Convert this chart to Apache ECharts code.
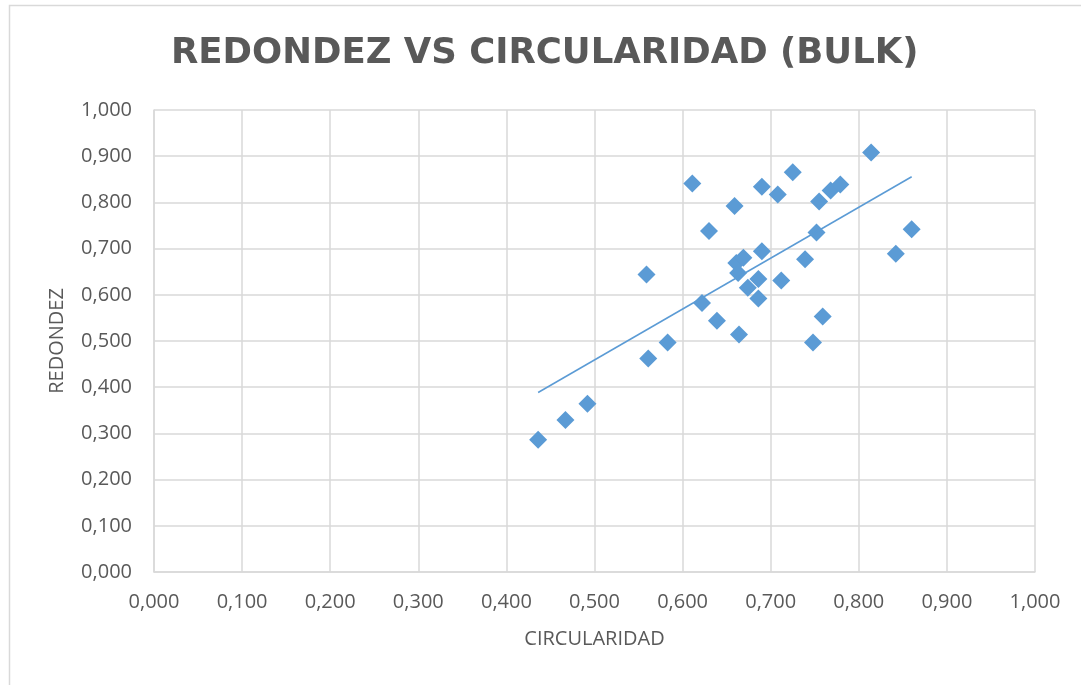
<!DOCTYPE html>
<html>
<head>
<meta charset="utf-8">
<script src="https://cdn.jsdelivr.net/npm/echarts@6/dist/echarts.min.js"></script>
<style>
  html, body { margin: 0; padding: 0; background: #fff; }
  #chart { width: 1081px; height: 685px; }
</style>
</head>
<body>
<div id="chart"></div>
<script>
// datos
const circularidad = [0.436, 0.467, 0.492, 0.559, 0.561, 0.583, 0.611, 0.622, 0.630, 0.639,
  0.659, 0.661, 0.663, 0.664, 0.669, 0.674, 0.686, 0.686, 0.690, 0.690,
  0.708, 0.712, 0.725, 0.739, 0.748, 0.752, 0.755, 0.759, 0.768, 0.779,
  0.814, 0.842, 0.860];
const redondez = [0.286, 0.329, 0.364, 0.644, 0.462, 0.497, 0.841, 0.582, 0.738, 0.544,
  0.792, 0.669, 0.647, 0.514, 0.680, 0.615, 0.634, 0.592, 0.834, 0.694,
  0.817, 0.631, 0.865, 0.677, 0.497, 0.735, 0.802, 0.553, 0.826, 0.839,
  0.908, 0.689, 0.742];
const axisMin = 0, axisMax = 1, axisStep = 0.1;

const gray = '#595959';
const gridGray = '#D9D9D9';
const blue = '#5B9BD5';

// linea de tendencia lineal (minimos cuadrados), como en Excel
const n = circularidad.length;
const mx = circularidad.reduce((a, b) => a + b, 0) / n;
const my = redondez.reduce((a, b) => a + b, 0) / n;
let sxy = 0, sxx = 0;
for (let i = 0; i < n; i++) {
  sxy += (circularidad[i] - mx) * (redondez[i] - my);
  sxx += (circularidad[i] - mx) * (circularidad[i] - mx);
}
const slope = sxy / sxx;
const icpt = my - slope * mx;
const xLo = Math.min(...circularidad), xHi = Math.max(...circularidad);
const trend = [[xLo, icpt + slope * xLo], [xHi, icpt + slope * xHi]];

const fmt = v => v.toFixed(3).replace('.', ',');
const font = '"Open Sans", "Noto Sans", sans-serif';

const option = {
  backgroundColor: '#fff',
  animation: false,
  graphic: [{
    type: 'rect',
    left: 7, top: 3,
    shape: { width: 1200, height: 800 },
    style: { fill: 'none', stroke: gridGray, lineWidth: 1.5 }
  }],
  title: {
    text: 'REDONDEZ VS CIRCULARIDAD (BULK)',
    left: 166,
    top: 31,
    textStyle: { color: gray, fontSize: 35.5, fontWeight: 'bold', fontFamily: '"DejaVu Sans", sans-serif' }
  },
  grid: { left: 154, top: 110, right: 46, bottom: 113, containLabel: false },
  xAxis: {
    type: 'value',
    min: axisMin, max: axisMax, interval: axisStep,
    name: 'CIRCULARIDAD',
    nameLocation: 'middle',
    nameGap: 57,
    nameTextStyle: { color: gray, fontSize: 20, fontFamily: font },
    axisLine: { show: true, lineStyle: { color: gridGray, width: 1.5 } },
    axisTick: { show: false },
    axisLabel: { color: gray, fontSize: 20, fontFamily: font, margin: 20, formatter: fmt },
    splitLine: { show: true, lineStyle: { color: gridGray, width: 1.5 } }
  },
  yAxis: {
    type: 'value',
    min: axisMin, max: axisMax, interval: axisStep,
    name: 'REDONDEZ',
    nameLocation: 'middle',
    nameGap: 87,
    nameTextStyle: { color: gray, fontSize: 20, fontFamily: font },
    axisLine: { show: true, lineStyle: { color: gridGray, width: 1.5 } },
    axisTick: { show: false },
    axisLabel: { color: gray, fontSize: 20, fontFamily: font, margin: 22, formatter: fmt },
    splitLine: { show: true, lineStyle: { color: gridGray, width: 1.5 } }
  },
  series: [
    {
      name: 'tendencia',
      type: 'line',
      data: trend,
      symbol: 'none',
      lineStyle: { color: blue, width: 1.5 },
      z: 3
    },
    {
      name: 'REDONDEZ',
      type: 'scatter',
      data: circularidad.map((x, i) => [x, redondez[i]]),
      symbol: 'diamond',
      symbolSize: 18,
      itemStyle: { color: blue, opacity: 1 },
      z: 2
    }
  ]
};

const chart = echarts.init(document.getElementById('chart'));
chart.setOption(option);
</script>
</body>
</html>
